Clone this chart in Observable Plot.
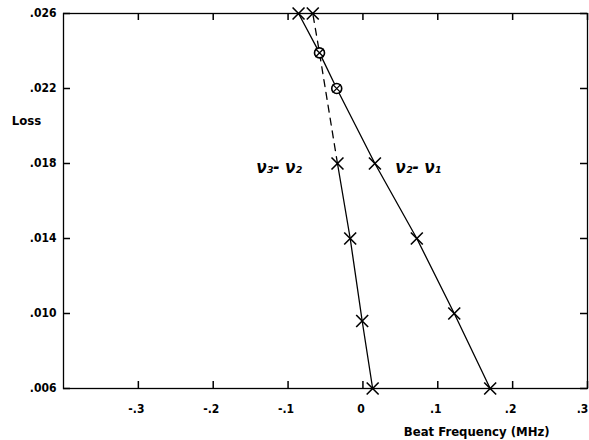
<!DOCTYPE html>
<html>
<head>
<meta charset="utf-8">
<script src="https://cdn.jsdelivr.net/npm/d3@7"></script>
<script src="https://cdn.jsdelivr.net/npm/@observablehq/plot@0.6"></script>
<style>
  html, body { margin: 0; padding: 0; background: #fff; }
  #chart svg { display: block; overflow: visible; }
</style>
</head>
<body>
<div id="chart"></div>
<script>
// ---- data ----
const xTicks = [-0.3, -0.2, -0.1, 0, 0.1, 0.2, 0.3];
const yTicks = [0.006, 0.010, 0.014, 0.018, 0.022, 0.026];

// nu2 - nu1 branch (solid)
const beat21 = [0.170, 0.122, 0.072, 0.016, -0.035, -0.058, -0.086];
const loss21 = [0.006, 0.010, 0.014, 0.018, 0.022, 0.0239, 0.026];
const mark21 = ["x", "x", "x", "x", "o", "o", "x"];

// nu3 - nu2 branch: solid part then dashed part
const beat32 = [0.013, -0.001, -0.017, -0.034];
const loss32 = [0.006, 0.0096, 0.014, 0.018];
const beat32d = [-0.034, -0.058, -0.067];
const loss32d = [0.018, 0.0239, 0.026];
const mark32d = ["x", "o", "x"];

// annotations
const labelText = ["ν₃- ν₂", "ν₂- ν₁"];
const labelX = [-0.112, 0.074];
const labelY = [0.0178, 0.0178];

// ---- build tables ----
const xDomain = [-0.4, 0.3];
const yDomain = [0.006, 0.026];
const W = 589, H = 440, mL = 63, mR = 2, mT = 13, mB = 52;
const tickPx = 7;
// inward tick length expressed in data units
const tickLenX = tickPx * (xDomain[1] - xDomain[0]) / (W - mL - mR);
const tickLenY = tickPx * (yDomain[1] - yDomain[0]) / (H - mT - mB);

const s21 = beat21.map((x, i) => ({x, y: loss21[i], m: mark21[i]}));
const s32 = beat32.map((x, i) => ({x, y: loss32[i], m: "x"}));
const s32d = beat32d.map((x, i) => ({x, y: loss32d[i], m: mark32d[i]}));
const crosses = [...s21, ...s32, s32d[2]].filter(d => d.m === "x");
const circles = s21.filter(d => d.m === "o");
const labels = labelText.map((t, i) => ({t, x: labelX[i], y: labelY[i]}));

const fmtX = d => d === 0 ? "0" : (d < 0 ? "-" : "") + Math.abs(d).toFixed(1).replace(/^0/, "");
const fmtY = d => d.toFixed(3).replace(/^0/, "");
const xLabMain = xTicks.slice(0, -1);
const xLabLast = xTicks.slice(-1);

const font = "'DejaVu Sans Condensed', 'DejaVu Sans', sans-serif";

const chart = Plot.plot({
  width: W,
  height: H,
  marginLeft: mL,
  marginRight: mR,
  marginTop: mT,
  marginBottom: mB,
  style: {fontFamily: font, fontSize: "12px", color: "black", background: "white"},
  x: {domain: xDomain, axis: null},
  y: {domain: yDomain, axis: null},
  marks: [
    Plot.frame({stroke: "black", strokeWidth: 1.3}),
    // inward ticks on all four sides
    Plot.ruleX(xTicks, {x: d => d, y1: yDomain[0], y2: yDomain[0] + tickLenY, stroke: "black", strokeWidth: 1.5}),
    Plot.ruleX(xTicks, {x: d => d, y1: yDomain[1], y2: yDomain[1] - tickLenY, stroke: "black", strokeWidth: 1.5}),
    Plot.ruleY(yTicks, {y: d => d, x1: xDomain[0], x2: xDomain[0] + tickLenX, stroke: "black", strokeWidth: 1.5}),
    Plot.ruleY(yTicks, {y: d => d, x1: xDomain[1], x2: xDomain[1] - tickLenX, stroke: "black", strokeWidth: 1.5}),
    // tick labels
    Plot.text(xLabMain, {x: d => d, y: () => yDomain[0], text: fmtX, dy: 21, dx: -2, fontWeight: "bold", fill: "black", fontSize: 12}),
    Plot.text(xLabLast, {x: d => d, y: () => yDomain[0], text: fmtX, dy: 21, dx: -5, fontWeight: "bold", fill: "black", fontSize: 12}),
    Plot.text(yTicks, {x: () => xDomain[0], y: d => d, text: fmtY, dx: -7, textAnchor: "end", fontWeight: "bold", fill: "black", fontSize: 12}),
    // data
    Plot.line(s21, {x: "x", y: "y", stroke: "black", strokeWidth: 1.3}),
    Plot.line(s32, {x: "x", y: "y", stroke: "black", strokeWidth: 1.3}),
    Plot.line(s32d, {x: "x", y: "y", stroke: "black", strokeWidth: 1.3, strokeDasharray: "7,6"}),
    Plot.dot(crosses, {x: "x", y: "y", symbol: "times", r: 5.5, stroke: "black", strokeWidth: 1.6}),
    Plot.dot(circles, {x: "x", y: "y", symbol: "circle", r: 5, stroke: "black", fill: "white", strokeWidth: 1.6}),
    Plot.dot(circles, {x: "x", y: "y", symbol: "times", r: 3.8, stroke: "black", strokeWidth: 1.3}),
    Plot.text(labels, {x: "x", y: "y", text: "t", fontSize: 17, fontWeight: "bold", fontStyle: "italic", fill: "black"}),
    Plot.text(["Loss"], {x: () => xDomain[0], y: () => 0.0203, dx: -37, text: d => d, fontSize: 13, fontWeight: "bold", fill: "black"}),
    Plot.text(["Beat Frequency (MHz)"], {x: () => 0.152, y: () => yDomain[0], dy: 43, text: d => d, fontSize: 13, fontWeight: "bold", fill: "black"})
  ]
});
document.getElementById("chart").appendChild(chart);
</script>
</body>
</html>
